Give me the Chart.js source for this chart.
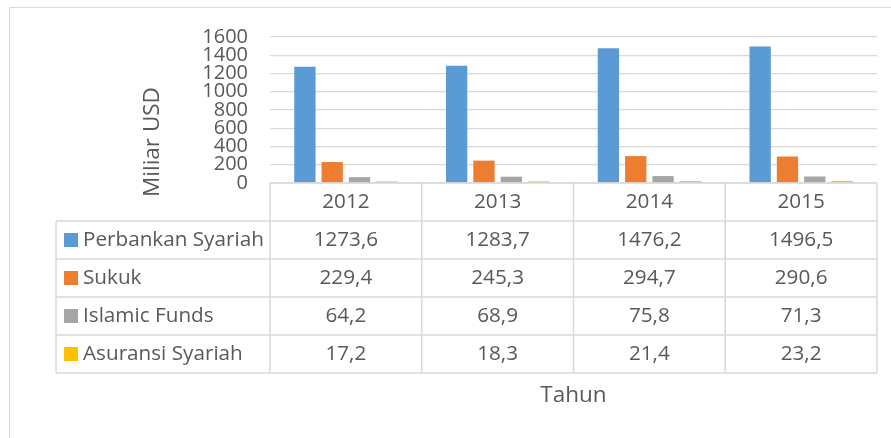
<!DOCTYPE html>
<html>
<head>
<meta charset="utf-8">
<script src="https://cdn.jsdelivr.net/npm/chart.js@4.4.1/dist/chart.umd.min.js"></script>
<style>
  html, body { margin: 0; padding: 0; background: #fff; }
  #wrap { width: 891px; height: 438px; }
</style>
</head>
<body>
<div id="wrap"><canvas id="chart" width="891" height="438"></canvas></div>
<script>
// data
const years = ['2012', '2013', '2014', '2015'];
const perbankan = [1273.6, 1283.7, 1476.2, 1496.5];
const sukuk = [229.4, 245.3, 294.7, 290.6];
const islamicFunds = [64.2, 68.9, 75.8, 71.3];
const asuransi = [17.2, 18.3, 21.4, 23.2];
const seriesNames = ['Perbankan Syariah', 'Sukuk', 'Islamic Funds', 'Asuransi Syariah'];
const yTicks = [0, 200, 400, 600, 800, 1000, 1200, 1400, 1600];

const colors = ['#5B9BD5', '#ED7D31', '#A5A5A5', '#FFC000'];
const textColor = '#595959';
const lineColor = '#D9D9D9';
const fontFamily = '"Open Sans", sans-serif';

const fmt = v => v.toFixed(1).replace('.', ',');

// draws the frame, the y title and the data table under the plot
const tablePlugin = {
  id: 'dataTable',
  afterDraw(chart) {
    const ctx = chart.ctx;
    const area = chart.chartArea;
    const xs = chart.scales.x;
    const colW = (area.right - area.left) / years.length;
    const top = area.bottom;
    const headH = 38;
    const rowH = 38;
    const legendLeft = 56;
    const bottom = top + headH + rowH * seriesNames.length;

    ctx.save();
    // outer frame
    ctx.strokeStyle = lineColor;
    ctx.lineWidth = 1;
    ctx.beginPath();
    ctx.moveTo(9.5, 438);
    ctx.lineTo(9.5, 7.5);
    ctx.lineTo(891, 7.5);
    ctx.stroke();

    // y title
    ctx.fillStyle = textColor;
    ctx.font = '22.5px ' + fontFamily;
    ctx.textAlign = 'center';
    ctx.textBaseline = 'middle';
    ctx.translate(153, 142);
    ctx.rotate(-Math.PI / 2);
    ctx.fillText('Miliar USD', 0, 0);
    ctx.setTransform(1, 0, 0, 1, 0, 0);

    // table grid
    ctx.strokeStyle = lineColor;
    ctx.lineWidth = 1.5;
    ctx.beginPath();
    ctx.moveTo(area.left, top);
    ctx.lineTo(area.right, top);
    for (let i = 0; i <= seriesNames.length; i++) {
      const y = top + headH + i * rowH;
      ctx.moveTo(legendLeft, y);
      ctx.lineTo(area.right, y);
    }
    for (let i = 0; i <= years.length; i++) {
      const x = area.left + i * colW;
      ctx.moveTo(x, top);
      ctx.lineTo(x, bottom);
    }
    ctx.moveTo(legendLeft, top + headH);
    ctx.lineTo(legendLeft, bottom);
    ctx.stroke();

    // header and values
    const rows = [perbankan, sukuk, islamicFunds, asuransi];
    ctx.font = '20.7px ' + fontFamily;
    ctx.fillStyle = textColor;
    ctx.textAlign = 'center';
    years.forEach((yr, i) => {
      const cx = xs.getPixelForValue(i);
      ctx.fillText(yr, cx, top + headH / 2);
      rows.forEach((r, j) => {
        ctx.fillText(fmt(r[i]), cx, top + headH + j * rowH + rowH / 2);
      });
    });

    // legend keys
    ctx.textAlign = 'left';
    seriesNames.forEach((name, j) => {
      const cy = top + headH + j * rowH + rowH / 2;
      ctx.fillStyle = colors[j];
      ctx.fillRect(64, cy - 7, 14, 14);
      ctx.fillStyle = textColor;
      ctx.fillText(name, 83, cy);
    });
    ctx.restore();
  }
};

new Chart(document.getElementById('chart'), {
  type: 'bar',
  data: {
    labels: years,
    datasets: [perbankan, sukuk, islamicFunds, asuransi].map((d, i) => ({
      label: seriesNames[i],
      data: d,
      backgroundColor: colors[i],
      categoryPercentage: 0.72,
      barPercentage: 0.78
    }))
  },
  options: {
    responsive: false,
    animation: false,
    layout: { padding: { top: 37, right: 14, left: 0, bottom: 0 } },
    plugins: {
      legend: { display: false },
      tooltip: { enabled: false }
    },
    scales: {
      x: {
        grid: { display: false },
        border: { display: false },
        ticks: { display: false },
        title: {
          display: true,
          text: 'Tahun',
          color: textColor,
          font: { family: fontFamily, size: 22.5 },
          padding: { top: 0, bottom: 29 }
        },
        afterFit: scale => { scale.height = 255; }
      },
      y: {
        min: 0,
        max: 1600,
        afterBuildTicks: scale => { scale.ticks = yTicks.map(v => ({ value: v })); },
        ticks: {
          autoSkip: false,
          padding: 22,
          color: textColor,
          font: { family: fontFamily, size: 20 },
          callback: v => String(v)
        },
        grid: { color: lineColor, lineWidth: 1.3, drawTicks: false },
        border: { display: false },
        afterFit: scale => { scale.width = 270; }
      }
    }
  },
  plugins: [tablePlugin]
});
</script>
</body>
</html>
